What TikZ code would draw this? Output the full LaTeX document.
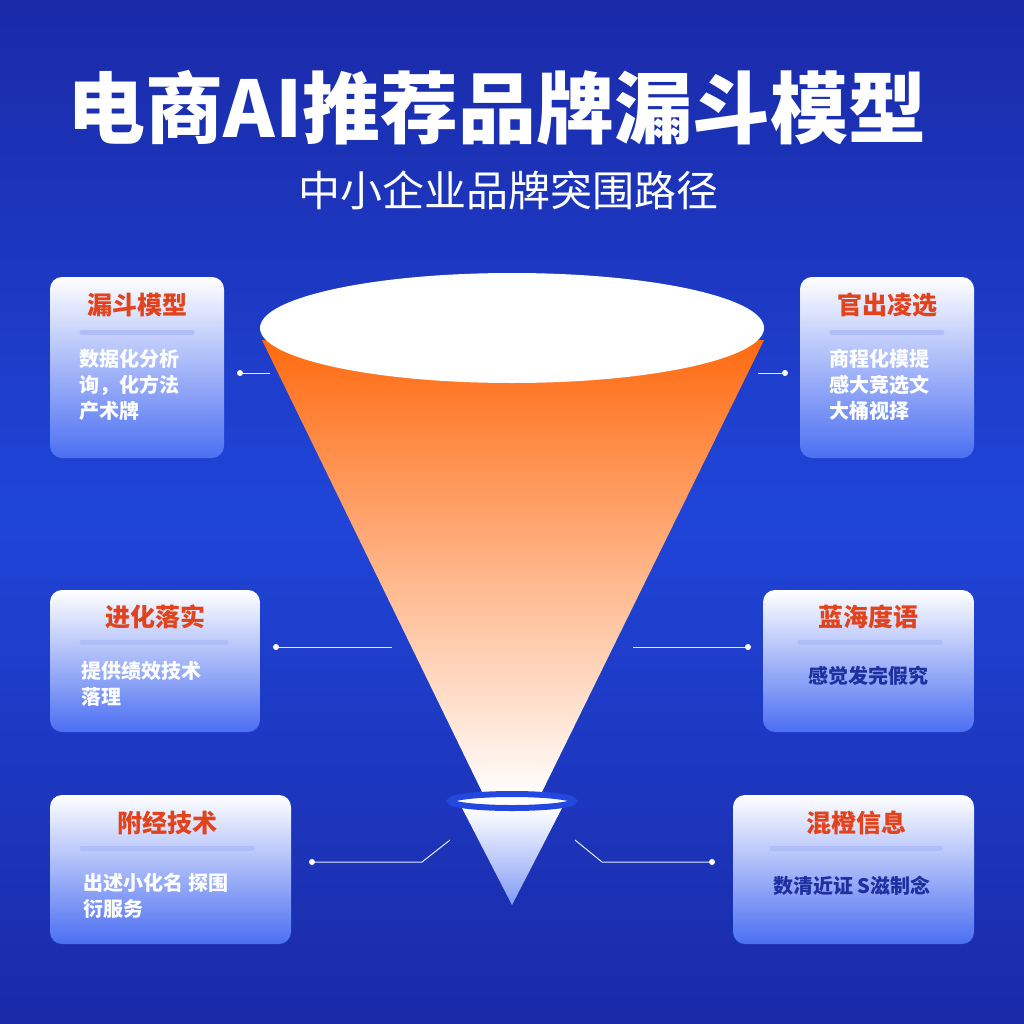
\documentclass[tikz,border=0pt]{standalone}
\usepackage{fontspec}
\setmainfont{Noto Sans CJK SC}
\usetikzlibrary{positioning}
\definecolor{bgtop}{HTML}{1A2AA8}
\definecolor{bgmid}{HTML}{1F45D8}
\definecolor{funorange}{HTML}{FF6A10}
\definecolor{titlered}{HTML}{E2421C}
\definecolor{boxblue}{HTML}{4B6FF2}
\definecolor{ringblue}{HTML}{2447E0}
\definecolor{bodyblue}{HTML}{1E2FA0}
\tikzset{
  card/.style={rounded corners=12pt, top color=white, bottom color=boxblue, draw=none},
  card title/.style={font=\bfseries\fontsize{25}{27}\selectfont, text=titlered, anchor=center},
  card body/.style={font=\bfseries\fontsize{20}{26}\selectfont, align=left, anchor=north west},
  divider/.style={line width=5pt, draw=boxblue!45, line cap=round},
  link/.style={draw=white!85!boxblue, line width=1pt},
  dot/.style={circle, fill=white, inner sep=0pt, minimum size=6pt}
}
\begin{document}
\begin{tikzpicture}[x=1pt,y=-1pt]
  % background
  \useasboundingbox (0,0) rectangle (1024,1024);
  \shade[top color=bgtop, bottom color=bgtop, middle color=bgmid] (0,0) rectangle (1024,1024);
  % titles
  \node[text=white, font=\bfseries\fontsize{78}{82}\selectfont] (title) at (497,108) {电商AI推荐品牌漏斗模型};
  \node[text=white, font=\fontsize{42}{46}\selectfont] (subtitle) at (508,190) {中小企业品牌突围路径};
  % funnel
  \shade[top color=funorange, bottom color=white] (262,340) -- (764,340) -- (538,800) -- (486,800) -- cycle;
  \shade[top color=white, bottom color=boxblue!70] (462,808) -- (562,808) -- (512,905) -- cycle;
  \fill[white] (512,328) ellipse [x radius=252, y radius=55];
  \draw[line width=6pt, draw=ringblue, fill=white] (512,801) ellipse [x radius=62, y radius=7];
  \coordinate (fl1) at (270,373);
  \coordinate (fr1) at (758,373);
  \coordinate (fl2) at (392,647);
  \coordinate (fr2) at (633,647);
  \coordinate (fl3) at (450,840);
  \coordinate (fr3) at (575,840);
  % cards left
  \path[card] (50,277) rectangle (224,458);
  \node[card title] (t1) at (137,305) {漏斗模型};
  \draw[divider] (82,332) -- (192,332);
  \node[card body, text=white] (b1) at (76,346) {数据化分析\\询，化方法\\产术牌};
  \path[card] (50,590) rectangle (260,732);
  \node[card title] (t2) at (155,617) {进化落实};
  \draw[divider] (82,642) -- (226,642);
  \node[card body, text=white] (b2) at (78,658) {提供绩效技术\\落理};
  \path[card] (50,795) rectangle (291,944);
  \node[card title] (t3) at (167,823) {附经技术};
  \draw[divider] (82,848) -- (252,848);
  \node[card body, text=white] (b3) at (80,870) {出述小化名 探围\\衍服务};
  % cards right
  \path[card] (800,277) rectangle (974,458);
  \node[card title] (t4) at (887,305) {官出凌选};
  \draw[divider] (832,332) -- (942,332);
  \node[card body, text=white] (b4) at (826,346) {商程化模提\\感大竞选文\\大桶视择};
  \path[card] (763,590) rectangle (974,732);
  \node[card title] (t5) at (868,617) {蓝海度语};
  \draw[divider] (800,642) -- (940,642);
  \node[card body, text=bodyblue, anchor=center] (b5) at (868,676) {感觉发完假究};
  \path[card] (733,795) rectangle (974,944);
  \node[card title] (t6) at (856,823) {混橙信息};
  \draw[divider] (772,848) -- (940,848);
  \node[card body, text=bodyblue, anchor=center] (b6) at (852,886) {数清近证 S滋制念};
  % connectors
  \node[dot] (d1) at (240,373) {};
  \node[dot] (d4) at (785,373) {};
  \node[dot] (d2) at (276,647) {};
  \node[dot] (d5) at (748,647) {};
  \node[dot] (d3) at (312,862) {};
  \node[dot] (d6) at (712,862) {};
  \draw[link] (d1) -- (fl1);
  \draw[link] (d4) -- (fr1);
  \draw[link] (d2) -- (fl2);
  \draw[link] (d5) -- (fr2);
  \draw[link] (d3) -- (422,862) -- (fl3);
  \draw[link] (d6) -- (602,862) -- (fr3);
\end{tikzpicture}
\end{document}
